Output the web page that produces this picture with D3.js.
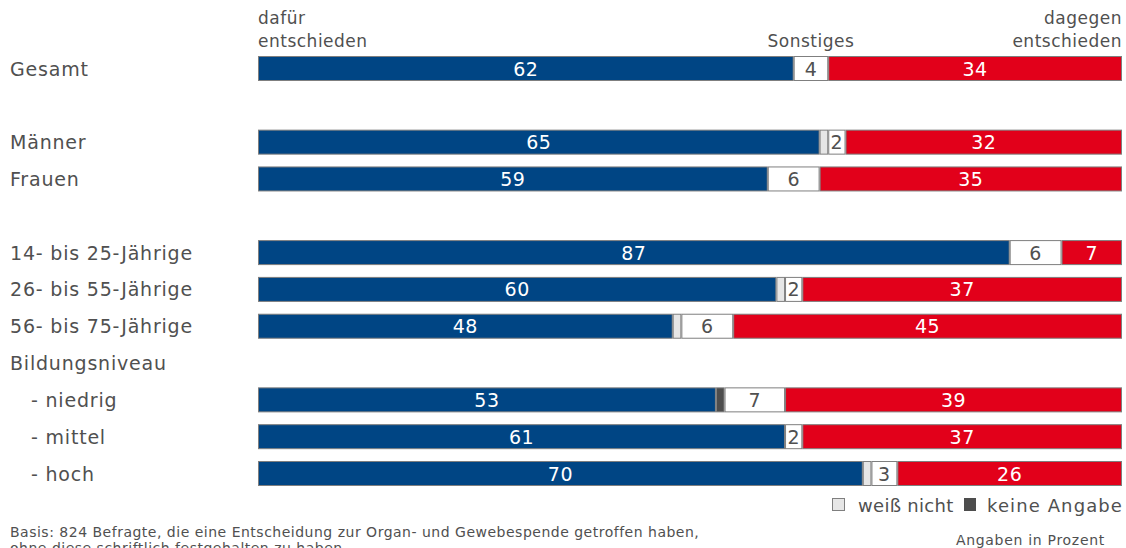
<!DOCTYPE html>
<html>
<head>
<meta charset="utf-8">
<script src="https://cdn.jsdelivr.net/npm/d3@7"></script>
<style>
  body { margin: 0; background: #fff; }
  text { font-family: "DejaVu Sans", Verdana, sans-serif; fill: #505050; }
</style>
</head>
<body>
<div id="chart"></div>
<script>
// data
var categories = ["Gesamt", "Männer", "Frauen", "14- bis 25-Jährige", "26- bis 55-Jährige", "56- bis 75-Jährige", "- niedrig", "- mittel", "- hoch"];
var rows = [0, 2, 3, 5, 6, 7, 9, 10, 11];
var dafuer = [62, 65, 59, 87, 60, 48, 53, 61, 70];
var weissNicht = [0, 1, 0, 0, 1, 1, 0, 0, 1];
var keineAngabe = [0, 0, 0, 0, 0, 0, 1, 0, 0];
var sonstiges = [4, 2, 6, 6, 2, 6, 7, 2, 3];
var dagegen = [34, 32, 35, 7, 37, 45, 39, 37, 26];
var segColors = ["#004584", "#e6e6e6", "#4d4d4d", "#ffffff", "#e2001a"];
var segText = ["#ffffff", null, null, "#505050", "#ffffff"];

var svg = d3.select("#chart").append("svg")
  .attr("width", 1126)
  .attr("height", 548);

var x = d3.scaleLinear().domain([0, 100]).range([258, 1122]);
var y = d3.scaleLinear().domain([0, 11]).range([68.5, 473.5]);
var barH = 25;

// header labels
var head = svg.append("g").style("font-size", "17px").style("letter-spacing", "0.5px");
head.append("text").attr("x", 258).attr("y", 24).text("dafür");
head.append("text").attr("x", 258).attr("y", 47).text("entschieden");
head.append("text").attr("x", x(62 + 2)).attr("y", 47).attr("text-anchor", "middle").text("Sonstiges");
head.append("text").attr("x", 1122).attr("y", 24).attr("text-anchor", "end").text("dagegen");
head.append("text").attr("x", 1122).attr("y", 47).attr("text-anchor", "end").text("entschieden");

// category labels
svg.append("g").selectAll("text")
  .data(categories)
  .enter().append("text")
  .attr("x", function(d) { return d.charAt(0) == "-" ? 31 : 10; })
  .attr("y", function(d, i) { return y(rows[i]) + 7; })
  .style("font-size", "19px")
  .style("letter-spacing", "0.8px")
  .text(function(d) { return d; });

svg.append("text").attr("x", 10).attr("y", y(8) + 7)
  .style("font-size", "19px").style("letter-spacing", "0.8px").text("Bildungsniveau");

// bars
categories.forEach(function(c, i) {
  var vals = [dafuer[i], weissNicht[i], keineAngabe[i], sonstiges[i], dagegen[i]];
  var start = 0;
  var g = svg.append("g");
  vals.forEach(function(v, k) {
    if (v <= 0) return;
    var x0 = x(start), x1 = x(start + v);
    g.append("rect")
      .attr("x", x0 + 0.5)
      .attr("y", y(rows[i]) - barH / 2 + 0.5)
      .attr("width", x1 - x0 - 1)
      .attr("height", barH - 1)
      .style("fill", segColors[k])
      .style("stroke", "#7f7f7f")
      .style("stroke-width", 1);
    if (segText[k]) {
      g.append("text")
        .attr("x", (x0 + x1) / 2)
        .attr("y", y(rows[i]) + 7)
        .attr("text-anchor", "middle")
        .style("font-size", "19px")
        .style("letter-spacing", "0.5px")
        .style("fill", segText[k])
        .text(v);
    }
    start += v;
  });
});

// legend
var leg = svg.append("g").style("font-size", "18px");
leg.append("rect").attr("x", 832.5).attr("y", 498.5).attr("width", 12).attr("height", 12)
  .style("fill", "#e6e6e6").style("stroke", "#7f7f7f");
leg.append("text").attr("x", 858).attr("y", 512).style("letter-spacing", "0.3px").text("weiß nicht");
leg.append("rect").attr("x", 964).attr("y", 498).attr("width", 12).attr("height", 13)
  .style("fill", "#4d4d4d");
leg.append("text").attr("x", 1123).attr("y", 512).attr("text-anchor", "end")
  .style("letter-spacing", "1.1px").text("keine Angabe");

// footer
var foot = svg.append("g").style("font-size", "14px").style("letter-spacing", "0.5px");
foot.append("text").attr("x", 10).attr("y", 537)
  .text("Basis: 824 Befragte, die eine Entscheidung zur Organ- und Gewebespende getroffen haben,");
foot.append("text").attr("x", 10).attr("y", 553)
  .text("ohne diese schriftlich festgehalten zu haben.");
foot.append("text").attr("x", 1105).attr("y", 545).attr("text-anchor", "end")
  .style("letter-spacing", "0.7px").text("Angaben in Prozent");
</script>
</body>
</html>
